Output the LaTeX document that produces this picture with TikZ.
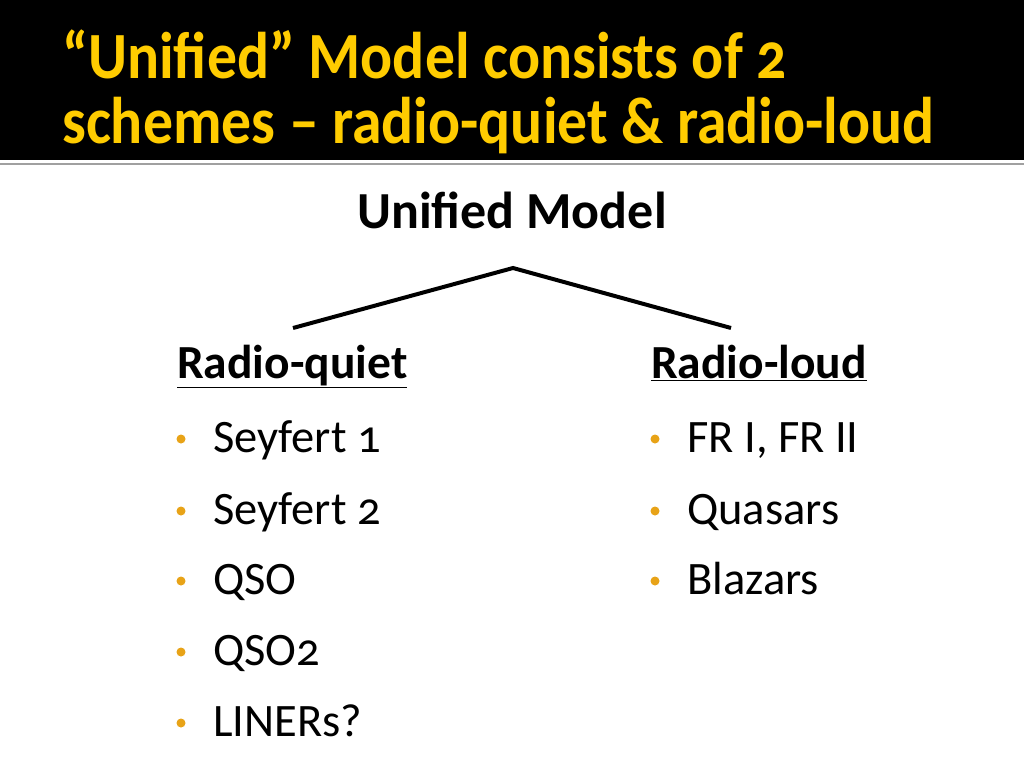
\documentclass[tikz,border=0pt]{standalone}
\usepackage{fontspec}
\setmainfont{Carlito}[Numbers=OldStyle]
\definecolor{titlegold}{HTML}{FFCC00}
\definecolor{bulletgold}{HTML}{E8A317}
\definecolor{rulegray}{HTML}{A0A0A0}
\begin{document}
\begin{tikzpicture}[x=1pt,y=-1pt,
  titletext/.style={anchor=base west,inner sep=0pt,text=titlegold,xscale=0.905,font=\bfseries\fontsize{66}{66}\selectfont},
  headtext/.style={anchor=base,inner sep=0pt,font=\bfseries\fontsize{52}{52}\selectfont},
  subhead/.style={anchor=base west,inner sep=0pt,font=\bfseries\fontsize{47.5}{47.5}\selectfont},
  itemtext/.style={anchor=base west,inner sep=0pt,font=\fontsize{46.5}{46.5}\selectfont},
  bulletdot/.style={circle,fill=bulletgold,inner sep=0pt,minimum size=9pt},
  branch/.style={line width=4pt}]
\useasboundingbox (0,0) rectangle (1024,768);
\fill[white] (0,0) rectangle (1024,768);
\fill[black] (0,0) rectangle (1024,160);
\draw[rulegray,line width=2pt] (0,164) -- (1024,164);
\node[titletext] (t1) at (62,78) {“Unified” Model consists of 2};
\node[titletext] (t2) at (62,143) {schemes – radio-quiet \& radio-loud};
\node[headtext] (um) at (512,228) {Unified Model};
\coordinate (apex) at (513,268);
\coordinate (lend) at (293,328);
\coordinate (rend) at (731,328);
\draw[branch] (lend) -- (apex) -- (rend);
\node[subhead] (rq) at (177,378) {\underline{Radio-quiet}};
\node[subhead] (rl) at (651,378) {\underline{Radio-loud}};
\foreach \n/\y/\t in {a/452/Seyfert 1,b/524/Seyfert 2,c/594/QSO,d/665/QSO2,e/736/LINERs?}{
  \node[bulletdot] (lb\n) at (181,\y-13) {};
  \node[itemtext] (li\n) at (213,\y) {\t};
}
\foreach \n/\y/\t in {a/452/{FR I, FR II},b/524/Quasars,c/594/Blazars}{
  \node[bulletdot] (rb\n) at (655,\y-13) {};
  \node[itemtext] (ri\n) at (687,\y) {\t};
}
\end{tikzpicture}
\end{document}
